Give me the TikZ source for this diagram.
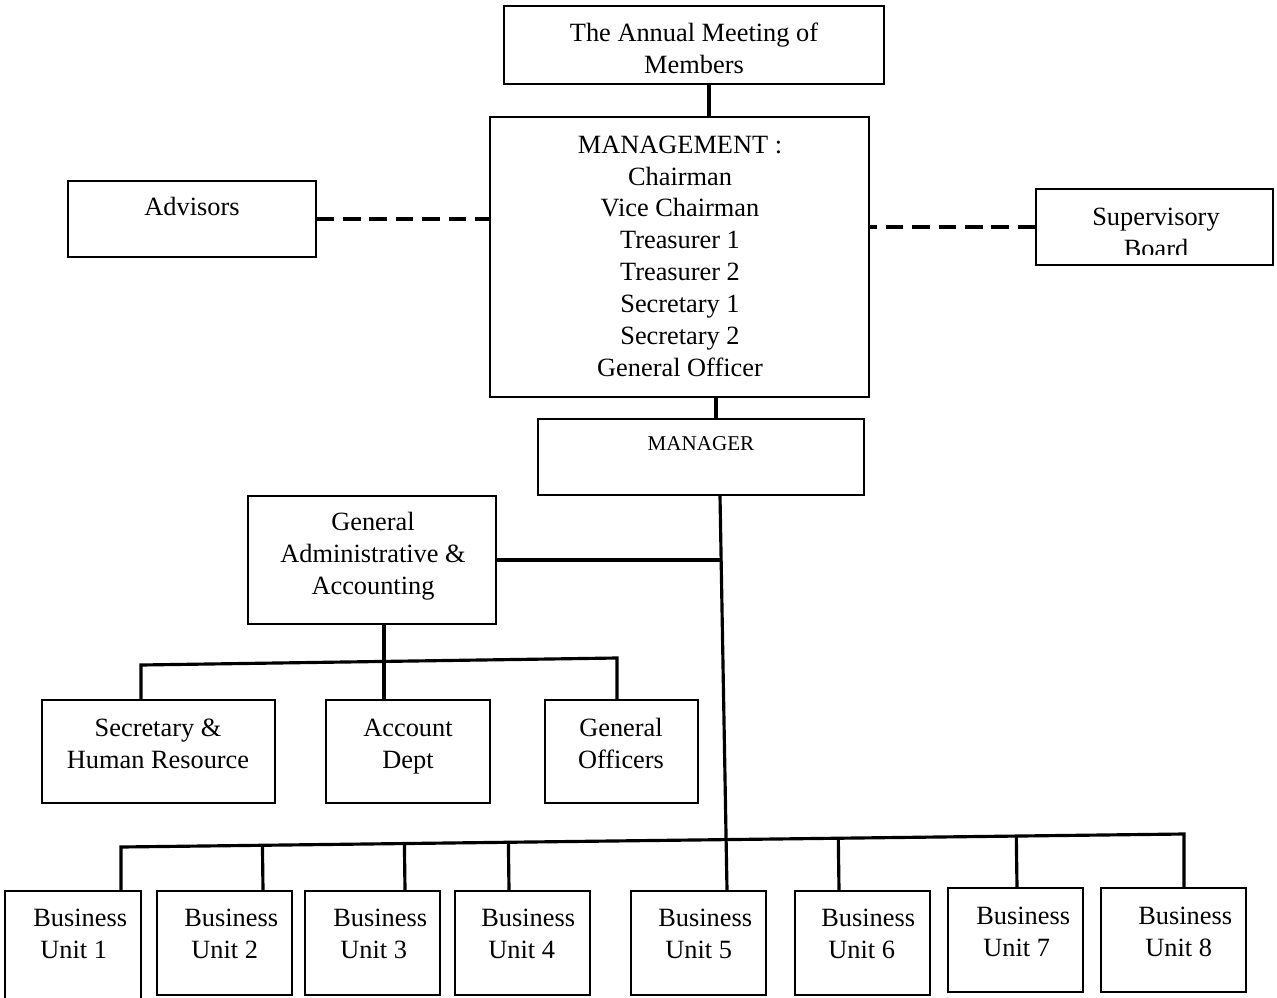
\documentclass[tikz,border=0pt]{standalone}
\usepackage{fontspec}
\setmainfont{Liberation Serif}
\usetikzlibrary{fit,calc}

\tikzset{
  box/.style={draw, line width=0.85pt, inner sep=0pt},
  txt/.style={font=\fontsize{15}{18.1}\selectfont, align=center, inner sep=0pt, anchor=base},
  conn/.style={line width=1.8pt},
  dashlink/.style={line width=1.9pt, dash pattern=on 10pt off 5pt}
}

\begin{document}
\begin{tikzpicture}[x=0.02cm, y=-0.02cm]
\useasboundingbox (0,0) rectangle (1277,997);

% top of the chart (text placed at the baseline of its last line)
\node[box, fit={(504,6) (884,84)}] (annual) {};
\node[txt] (annual-t) at (694,73) {The Annual Meeting of\\Members};
\node[box, fit={(490,117) (869,397)}] (mgmt) {};
\node[txt] (mgmt-t) at (680,376) {MANAGEMENT :\\Chairman\\Vice Chairman\\Treasurer 1\\Treasurer 2\\Secretary 1\\Secretary 2\\General Officer};
\node[box, fit={(68,181) (316,257)}] (adv) {};
\node[txt] (adv-t) at (192,215) {Advisors};
\node[box, fit={(1036,189) (1273,265)}] (sup) {};
\begin{scope}
\clip (1036,189) rectangle (1273,254);
\node[txt] (sup-t) at (1156,257) {Supervisory\\Board};
\end{scope}
\node[box, fit={(538,419) (864,495)}] (mgr) {};
\node[txt, font=\fontsize{12}{14}\selectfont] (mgr-t) at (701,450) {MANAGER};

% administration
\node[box, fit={(248,496) (496,624)}] (ga) {};
\node[txt] (ga-t) at (373,594) {General\\Administrative \&\\Accounting};
\node[box, fit={(42,700) (275,803)}] (sec) {};
\node[txt] (sec-t) at (158,768) {Secretary \&\\Human Resource};
\node[box, fit={(326,700) (490,803)}] (acc) {};
\node[txt] (acc-t) at (408,768) {Account\\Dept};
\node[box, fit={(545,700) (698,803)}] (go) {};
\node[txt] (go-t) at (621,768) {General\\Officers};

% business units
\foreach \i/\xa/\ya/\xb/\yb/\xt/\yt in {1/5/891/141/1000/33/958, 2/157/891/292/995/184/958,
  3/305/891/440/995/333/958, 4/455/891/590/995/481/958, 5/631/891/766/995/658/958,
  6/795/891/930/995/821/958, 7/948/888/1083/992/976/956, 8/1101/888/1246/992/1138/956}
{
  \node[box, fit={(\xa,\ya) (\xb,\yb)}] (bu\i) {};
  \node[txt, align=left, anchor=base west] (bu\i-t) at (\xt,\yt) {Business\\\hspace*{4pt}Unit \i};
}

% connectors
\coordinate (am) at (709,0);
\coordinate (mm) at (716,0);
\coordinate (m1) at (720,0);
\coordinate (m2) at (727,0);
\coordinate (g1) at (384,0);
\coordinate (sbL) at (141,665);
\coordinate (sbR) at (617,658);
\coordinate (busL) at (121,847);
\coordinate (busR) at (1184,834);

\draw[conn] (annual.south -| am) -- (mgmt.north -| am);
\draw[conn] (mgmt.south -| mm) -- (mgr.north -| mm);
\draw[dashlink] (adv.east) -- (adv.east -| mgmt.west);
\draw[dashlink] (sup.west) -- (sup.west -| mgmt.east);
\draw[conn] (mgr.south -| m1) -- (bu5.north -| m2);
\draw[conn] (ga.east) -- (ga.east -| m1);
\draw[conn] (ga.south -| g1) -- (acc.north -| g1);
\draw[conn] (sec.north -| sbL) -- (sbL) -- (sbR) -- (go.north -| sbR);
\draw[conn] (bu1.north -| busL) -- (busL) -- (busR) -- (bu8.north -| busR);
\foreach \i/\xd in {2/263, 3/405, 4/509, 6/839, 7/1017}
{
  \coordinate (d\i) at (\xd,0);
  \draw[conn] (bu\i.north -| d\i) -- ($(busL)!(bu\i.north -| d\i)!(busR)$);
}
\end{tikzpicture}
\end{document}
